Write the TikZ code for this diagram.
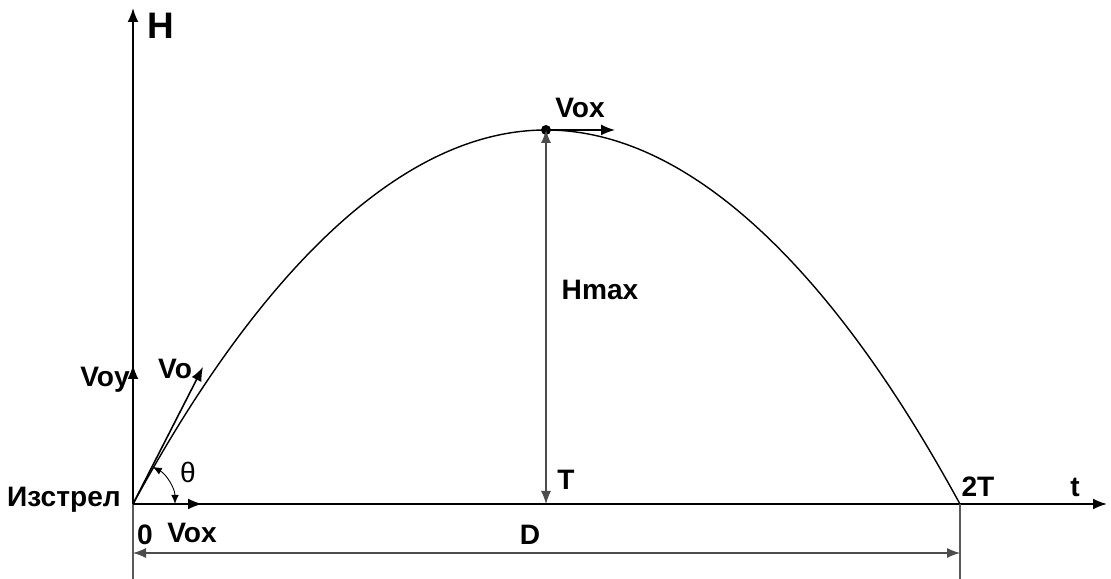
\documentclass[tikz,border=0pt]{standalone}
\usepackage{fontspec}
\setmainfont{Liberation Sans}
\usetikzlibrary{arrows.meta,positioning,calc}

\begin{document}
\begin{tikzpicture}[lbl/.style={font=\fontsize{16}{18}\selectfont\bfseries},
  tip/.style={-{Latex[length=2.8mm,width=2.2mm]}},
  axis/.style={line width=1.1pt,tip},
  vec/.style={line width=0.9pt,tip},
  dim/.style={gray!60!black,line width=0.6pt,{Latex[length=2.6mm,width=2mm]}-{Latex[length=2.6mm,width=2mm]}}]
  \useasboundingbox (-2.66,-1.5) rectangle (19.56,10.08);
  % points
  \coordinate (O) at (0,0);
  \coordinate (Htop) at (0,9.92);
  \coordinate (tend) at (19.48,0);
  \coordinate (A) at (8.26,7.48);
  \coordinate (T) at (8.26,0);
  \coordinate (B) at (16.54,0);
  \coordinate (vo) at (1.4,2.74);
  \coordinate (voy) at (0,2.78);
  \coordinate (vox) at (1.38,0);
  \coordinate (voxtop) at (9.64,7.48);
  \coordinate (Dl) at (0,-0.98);
  \coordinate (Dr) at (16.54,-0.98);
  % axes
  \draw[axis] (O) -- (Htop);
  \draw[axis] (O) -- (tend);
  \draw[gray!70!black,line width=0.6pt] (O) -- (0,-1.5);
  \draw[gray!70!black,line width=0.6pt] (B) -- (16.54,-1.5);
  % trajectory
  \draw[line width=0.8pt] (O) parabola bend (A) (B);
  \fill (A) circle (0.1);
  % velocities
  \draw[vec] (O) -- (vo);
  \draw[vec] (O) -- (voy);
  \draw[vec] (O) -- (vox);
  \draw[vec] (A) -- (voxtop);
  \draw[{Latex[length=1.8mm,width=1.5mm]}-{Latex[length=1.8mm,width=1.5mm]},line width=0.5pt] (62:0.84) arc (62:0:0.84);
  % dimensions
  \draw[dim] (A) -- (T);
  \draw[dim] (Dl) -- (Dr);
  % labels
  \node[font=\fontsize{21}{23}\selectfont\bfseries] (lH) at (0.56,9.56) {H};
  \node[lbl] (lt) at (18.84,0.34) {t};
  \node[lbl] (lvoxtop) at (8.94,7.92) {Vox};
  \node[lbl] (lhmax) at (9.34,4.28) {Hmax};
  \node[lbl] (lvoy) at (-0.56,2.48) {Voy};
  \node[lbl] (lvo) at (0.84,2.7) {Vo};
  \node[font=\fontsize{16}{18}\selectfont] (lth) at (1.1,0.64) {θ};
  \node[lbl,anchor=east] (lstart) at (-0.12,0.08) {Изстрел};
  \node[lbl] (l0) at (0.24,-0.62) {0};
  \node[lbl] (lvox) at (1.18,-0.58) {Vox};
  \node[lbl] (lT) at (8.66,0.48) {T};
  \node[lbl] (l2T) at (16.9,0.34) {2T};
  \node[lbl] (lD) at (7.94,-0.62) {D};
\end{tikzpicture}
\end{document}
